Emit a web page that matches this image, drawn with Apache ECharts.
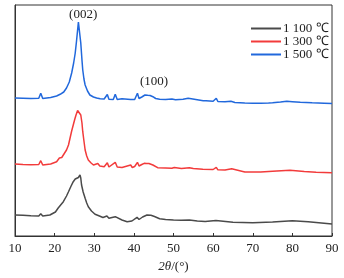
<!DOCTYPE html>
<html>
<head>
<meta charset="utf-8">
<script src="https://cdn.jsdelivr.net/npm/echarts@6/dist/echarts.min.js"></script>
<style>
  html, body { margin: 0; padding: 0; background: #fff; }
  #chart { width: 344px; height: 278px; }
</style>
</head>
<body>
<div id="chart"></div>
<script>
// XRD patterns, stacked (arbitrary intensity units)
const seriesNames = ['1 100 ℃', '1 300 ℃', '1 500 ℃'];
const xTicks = [10, 20, 30, 40, 50, 60, 70, 80, 90];

const x1100 = [10, 12, 14, 16, 16.5, 17, 18.8, 20.2, 20.9, 21.2, 22.2, 23.0, 23.5, 24.1, 24.7, 25.2, 25.6, 26.0, 26.2, 26.4, 26.6, 26.8, 27.2, 27.7, 28.1, 28.5, 29.3, 30.2, 31.0, 32.2, 33.2, 33.7, 35.3, 35.8, 37.0, 38.3, 39.5, 40.8, 41.3, 42.2, 43.3, 44.3, 45.2, 46.5, 48, 50, 52, 54, 56, 58, 60.7, 61.2, 65, 70, 75, 80, 84, 90];
const y1100 = [210, 207, 202, 200, 223, 200, 210, 240, 280, 270, 343, 400, 443, 495, 543, 570, 583, 585, 590, 610, 580, 510, 440, 377, 330, 293, 250, 217, 205, 185, 200, 177, 193, 175, 160, 143, 150, 187, 165, 190, 210, 207, 195, 173, 165, 160, 157, 160, 150, 145, 155, 143, 137, 133, 140, 153, 143, 120];

const x1300 = [10, 12, 14, 16, 16.5, 17, 19, 20.5, 21.2, 21.4, 21.8, 22.2, 23.0, 23.5, 23.9, 24.3, 24.7, 25.1, 25.4, 25.8, 26.0, 26.3, 26.6, 26.9, 27.1, 27.4, 27.7, 28.1, 28.5, 29.2, 29.8, 30.9, 31.4, 32.5, 33.3, 33.7, 35.3, 35.8, 37.0, 39.2, 39.6, 40.2, 40.9, 41.3, 42.0, 42.6, 43.2, 43.8, 44.8, 46.0, 48, 49.6, 50.2, 52, 54.0, 55, 57.4, 60, 60.8, 61.2, 63, 64.7, 65.2, 68, 72, 75, 79.4, 83, 86, 90];
const y1300 = [720, 715, 712, 715, 753, 710, 720, 743, 780, 787, 785, 810, 860, 910, 980, 1050, 1110, 1170, 1210, 1255, 1267, 1250, 1210, 1130, 1043, 950, 860, 800, 760, 730, 710, 725, 700, 693, 733, 690, 737, 690, 685, 710, 685, 695, 737, 700, 715, 727, 725, 725, 710, 683, 680, 677, 685, 675, 683, 675, 667, 665, 687, 662, 660, 673, 655, 640, 640, 647, 657, 645, 638, 633];

const x1500 = [10, 12, 14, 16, 16.5, 17, 19, 20.5, 21.4, 22.3, 23, 23.7, 24.3, 24.8, 25.2, 25.5, 25.8, 26.0, 26.1, 26.3, 26.6, 26.9, 27.1, 27.4, 27.7, 28.3, 28.9, 29.8, 30.6, 31.0, 31.5, 32.5, 33.3, 33.7, 34.8, 35.3, 35.8, 37.0, 37.5, 39.2, 39.5, 40.2, 40.9, 41.3, 42, 42.8, 43.5, 44.1, 44.5, 44.8, 45.5, 46.5, 48, 49.6, 50.5, 52.4, 53.7, 54.5, 55, 57.5, 57.8, 58.2, 60, 60.8, 61.2, 63, 64.5, 65.5, 68, 70, 72, 74, 75, 77, 78.6, 80, 82, 85, 88, 90];
const y1500 = [1380, 1378, 1375, 1377, 1427, 1375, 1385, 1400, 1417, 1440, 1480, 1540, 1630, 1730, 1830, 1940, 2060, 2140, 2160, 2120, 1930, 1760, 1660, 1570, 1510, 1450, 1410, 1390, 1380, 1390, 1373, 1370, 1415, 1367, 1365, 1417, 1365, 1372, 1363, 1365, 1380, 1365, 1427, 1375, 1390, 1410, 1407, 1405, 1400, 1393, 1375, 1368, 1365, 1370, 1363, 1367, 1377, 1372, 1360, 1353, 1365, 1352, 1347, 1377, 1345, 1342, 1347, 1335, 1330, 1327, 1328, 1330, 1333, 1340, 1347, 1343, 1337, 1332, 1328, 1325];

// peak labels [2θ, intensity]
const peakLabels = ['(002)', '(100)'];
const peakPos = [[27.2, 2210], [45.1, 1540]];

const colors = ['#4a4a4a', '#f23b3b', '#2168dc'];
const FONT = '"Liberation Serif", "Times New Roman", serif';

const zip = (xs, ys) => xs.map((x, i) => [x, ys[i]]);

const chart = echarts.init(document.getElementById('chart'));

const option = {
  animation: false,
  grid: {
    left: 15,
    right: 12,
    top: 5,
    bottom: 42,
    show: true,
    borderColor: '#333',
    borderWidth: 1
  },
  legend: {
    orient: 'vertical',
    left: 245,
    top: 17,
    itemWidth: 30,
    itemHeight: 14,
    itemGap: 0,
    data: seriesNames,
    itemStyle: { opacity: 0 },
    textStyle: { fontFamily: FONT, fontSize: 13, color: '#222', padding: [0, 0, 0, -3] }
  },
  xAxis: {
    type: 'value',
    min: 10,
    max: 90,
    interval: 10,
    name: '{i|2θ}/(°)',
    nameLocation: 'middle',
    nameGap: 22,
    nameTextStyle: {
      fontFamily: FONT,
      fontSize: 13,
      color: '#222',
      rich: { i: { fontFamily: FONT, fontStyle: 'italic', fontSize: 13, color: '#222' } }
    },
    axisLine: { lineStyle: { color: '#333' } },
    axisTick: { inside: true, length: 3, lineStyle: { color: '#333' } },
    axisLabel: {
      fontFamily: FONT,
      fontSize: 13,
      color: '#222',
      margin: 6,
      formatter: (v) => (xTicks.includes(v) ? String(v) : '')
    },
    splitLine: { show: false }
  },
  yAxis: {
    type: 'value',
    min: 0,
    max: 2310,
    axisLine: { show: true, lineStyle: { color: '#333' } },
    axisTick: { show: false },
    axisLabel: { show: false },
    splitLine: { show: false }
  },
  series: [
    { name: seriesNames[0], data: zip(x1100, y1100), color: colors[0] },
    { name: seriesNames[1], data: zip(x1300, y1300), color: colors[1] },
    {
      name: seriesNames[2],
      data: zip(x1500, y1500),
      color: colors[2],
      markPoint: {
        symbol: 'circle',
        symbolSize: 0,
        label: {
          show: true,
          position: 'inside',
          fontFamily: FONT,
          fontSize: 13,
          color: '#222',
          formatter: (p) => p.name
        },
        data: peakLabels.map((n, i) => ({ name: n, coord: peakPos[i] }))
      }
    }
  ].map((s) => Object.assign({
    type: 'line',
    symbol: 'none',
    lineStyle: { width: 1.5 }
  }, s))
};

chart.setOption(option);
</script>
</body>
</html>
